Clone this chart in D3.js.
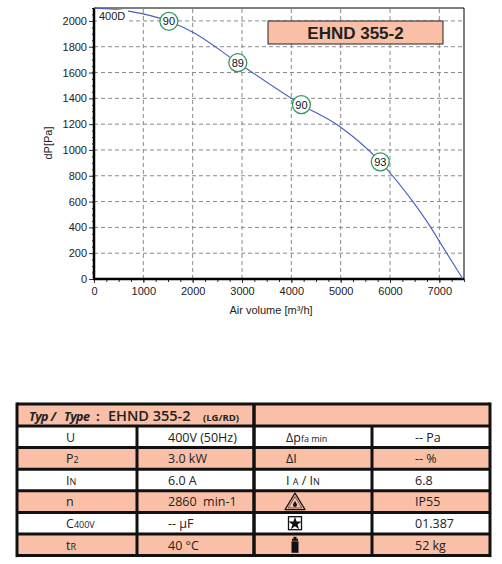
<!doctype html>
<html>
<head>
<script src="https://cdn.jsdelivr.net/npm/d3@7"></script>
<style>
  body { margin: 0; background: #fff; }
  svg { display: block; }
</style>
</head>
<body>
<svg width="502" height="564"></svg>
<script>
// curve data: air volume [m3/h] vs dP [Pa]
var flow = [0, 700, 1518, 2004, 2915, 4204, 4994, 5803, 6464, 6836, 7036, 7476];
var dp   = [2100, 2076, 1997, 1912, 1676, 1351, 1178, 908, 599, 394, 270, 0];
// efficiency markers
var effFlow = [1518, 2915, 4204, 5803];
var effDp   = [1997, 1676, 1351, 908];
var effVal  = ["90", "89", "90", "93"];
var xTicks = [0, 1000, 2000, 3000, 4000, 5000, 6000, 7000];
var yTicks = [0, 200, 400, 600, 800, 1000, 1200, 1400, 1600, 1800, 2000];
var title = "EHND 355-2";
var curveName = "400D";

// table
var headType = "EHND 355-2";
var headVariant = "(LG/RD)";
var labels1 = [[["U",0]], [["P",0],["2",1]], [["I",0],["N",1]], [["n",0]], [["C",0],["400V",1]], [["t",0],["R",1]]];
var values1 = ["400V (50Hz)", "3.0 kW", "6.0 A", "2860  min-1", "-- µF", "40 °C"];
var labels2 = [[["\u0394p",0],["fa min",1]], [["\u0394I",0]], [["I ",0],["A",1],[" / I",0],["N",1]], [], [], []];
var icons2  = [null, null, null, "warn", "star", "weight"];
var values2 = ["-- Pa", "-- %", "6.8", "IP55", "01.387", "52 kg"];

var svg = d3.select("svg");
var salmon = "#f9c0a7";

var x = d3.scaleLinear().domain([0, 7500]).range([94, 464]);
var y = d3.scaleLinear().domain([0, 2100]).range([279, 8]);

// grid
svg.append("g").selectAll("line.vg")
  .data(xTicks.slice(1))
  .enter().append("line")
  .attr("x1", function(d) { return x(d); }).attr("x2", function(d) { return x(d); })
  .attr("y1", y(0)).attr("y2", y(2100))
  .attr("stroke", "#8a8a8a").attr("stroke-dasharray", "4,3");
svg.append("g").selectAll("line.hg")
  .data(yTicks.slice(1))
  .enter().append("line")
  .attr("y1", function(d) { return y(d); }).attr("y2", function(d) { return y(d); })
  .attr("x1", x(0)).attr("x2", x(7500))
  .attr("stroke", "#8a8a8a").attr("stroke-dasharray", "4,3");

// axes
var xAxis = d3.axisBottom(x).tickValues(xTicks).tickSize(4).tickPadding(4).tickFormat(d3.format("d"));
var xMinor = d3.axisBottom(x).tickValues(d3.range(0, 7501, 250)).tickSize(3).tickFormat("");
var yAxis = d3.axisLeft(y).tickValues(yTicks).tickSize(5).tickPadding(2).tickFormat(d3.format("d"));
var yMinor = d3.axisLeft(y).tickValues(d3.range(0, 2101, 50)).tickSize(2).tickFormat("");

svg.append("g").attr("transform", "translate(0," + y(0) + ")").call(xMinor);
svg.append("g").attr("transform", "translate(0," + y(0) + ")").call(xAxis);
svg.append("g").attr("transform", "translate(" + x(0) + ",0)").call(yMinor);
svg.append("g").attr("transform", "translate(" + x(0) + ",0)").call(yAxis);
svg.selectAll(".domain").remove();
svg.selectAll(".tick line").attr("stroke", "#333");
svg.selectAll(".tick text")
  .attr("font-family", "Liberation Sans, Arial, sans-serif")
  .attr("font-size", 11).attr("fill", "#222");

// frame
svg.append("line").attr("x1", x(7500)).attr("x2", x(7500)).attr("y1", y(2100)).attr("y2", y(0)).attr("stroke", "#000");
svg.append("line").attr("x1", x(0)).attr("x2", x(7500)).attr("y1", y(2100)).attr("y2", y(2100)).attr("stroke", "#000");
svg.append("line").attr("x1", x(0)).attr("x2", x(0)).attr("y1", y(2100)).attr("y2", y(0) + 1).attr("stroke", "#000").attr("stroke-width", 2.5);
svg.append("line").attr("x1", x(0) - 1).attr("x2", x(7500)).attr("y1", y(0)).attr("y2", y(0)).attr("stroke", "#000").attr("stroke-width", 2.5);

// axis labels
svg.append("text").attr("x", 271).attr("y", 314).attr("text-anchor", "middle")
  .attr("font-family", "Liberation Sans, Arial, sans-serif").attr("font-size", 11).attr("fill", "#222")
  .text("Air volume [m\u00b3/h]");
svg.append("text").attr("transform", "translate(52,143) rotate(-90)").attr("text-anchor", "middle")
  .attr("font-family", "Liberation Sans, Arial, sans-serif").attr("font-size", 11).attr("fill", "#222")
  .text("dP[Pa]");

// curve
var line = d3.line()
  .x(function(d, i) { return x(flow[i]); })
  .y(function(d, i) { return y(dp[i]); })
  .curve(d3.curveMonotoneX);
svg.append("path").attr("d", line(flow))
  .attr("fill", "none").attr("stroke", "#4a5dc4").attr("stroke-width", 1.1);

// curve name
svg.append("rect").attr("x", 97).attr("y", 10).attr("width", 31).attr("height", 12).attr("fill", "#fff");
svg.append("text").attr("x", 99).attr("y", 20)
  .attr("font-family", "Liberation Sans, Arial, sans-serif").attr("font-size", 11).attr("fill", "#222")
  .text(curveName);

// efficiency markers
var marks = svg.append("g").selectAll("g")
  .data(effVal).enter().append("g")
  .attr("transform", function(d, i) { return "translate(" + x(effFlow[i]) + "," + y(effDp[i]) + ")"; });
marks.append("circle").attr("r", 9).attr("fill", "#fff").attr("stroke", "#2f9a5c").attr("stroke-width", 1.3);
marks.append("text").attr("y", 4).attr("text-anchor", "middle")
  .attr("font-family", "Liberation Sans, Arial, sans-serif").attr("font-size", 11).attr("fill", "#111")
  .text(function(d) { return d; });

// title box
svg.append("rect").attr("x", 268).attr("y", 21).attr("width", 175).attr("height", 23)
  .attr("fill", salmon).attr("stroke", "#222").attr("stroke-width", 1);
svg.append("text").attr("x", 355.5).attr("y", 39).attr("text-anchor", "middle")
  .attr("font-family", "Liberation Sans, Arial, sans-serif").attr("font-size", 17)
  .attr("font-weight", "bold").attr("fill", "#222").text(title);

// ---------- table ----------
var tf = "Open Sans, Noto Sans, sans-serif";
var tL = 17, tR = 490, tTop = 404, headH = 22, rowH = 21.6;
var colX = [tL, 137, 254, 372, tR];
var textX = [66, 168, 286, 415];
var fills = ["#fff", salmon, "#fff", salmon, "#fff", salmon];

var tbl = svg.append("g");
tbl.append("rect").attr("x", tL).attr("y", tTop).attr("width", tR - tL).attr("height", headH).attr("fill", salmon);
tbl.selectAll("rect.row").data(fills).enter().append("rect")
  .attr("x", tL).attr("y", function(d, i) { return tTop + headH + i * rowH; })
  .attr("width", tR - tL).attr("height", rowH).attr("fill", function(d) { return d; });

// header text
var ht = tbl.append("text").attr("y", tTop + 16.5).attr("font-family", tf).attr("fill", "#222");
ht.append("tspan").attr("x", 29).attr("font-size", 12.5).attr("font-weight", "bold").attr("font-style", "italic").attr("letter-spacing", -0.5).text("Typ /");
ht.append("tspan").attr("x", 64).attr("font-size", 12.5).attr("font-weight", "bold").attr("font-style", "italic").attr("letter-spacing", -0.5).text("Type");
ht.append("tspan").attr("x", 96).attr("font-size", 13).attr("font-weight", "bold").text(":");
ht.append("tspan").attr("x", 108).attr("font-size", 14.5).attr("font-weight", 600).text(headType);
ht.append("tspan").attr("x", 203).attr("font-size", 9.5).attr("font-weight", "bold").text(headVariant);

function writeLabel(row, segs, xx) {
  var t = tbl.append("text").attr("x", xx).attr("y", tTop + headH + row * rowH + 15.5)
    .attr("font-family", tf).attr("font-size", 12.5).attr("fill", "#222");
  segs.forEach(function(s) {
    t.append("tspan").attr("font-size", s[1] ? 9 : 12.5).text(s[0]);
  });
}
labels1.forEach(function(segs, i) { writeLabel(i, segs, textX[0]); });
labels2.forEach(function(segs, i) { if (segs.length) writeLabel(i, segs, textX[2]); });
tbl.selectAll("text.v1").data(values1).enter().append("text")
  .attr("x", textX[1]).attr("y", function(d, i) { return tTop + headH + i * rowH + 15.5; })
  .attr("font-family", tf).attr("font-size", 12.5).attr("fill", "#222")
  .attr("xml:space", "preserve").style("white-space", "pre")
  .text(function(d) { return d; });
tbl.selectAll("text.v2").data(values2).enter().append("text")
  .attr("x", textX[3]).attr("y", function(d, i) { return tTop + headH + i * rowH + 15.5; })
  .attr("font-family", tf).attr("font-size", 12.5).attr("fill", "#222")
  .text(function(d) { return d; });

// icons
icons2.forEach(function(ic, i) {
  var cy = tTop + headH + i * rowH + rowH / 2;
  var g = tbl.append("g").attr("transform", "translate(295," + cy + ")");
  if (ic === "warn") {
    g.append("path").attr("d", "M0,-8.5 L10,8 L-10,8 Z").attr("fill", "none").attr("stroke", "#111").attr("stroke-width", 1.2).attr("stroke-linejoin", "round");
    g.append("path").attr("d", "M0,-5 L6.8,6.3 L-6.8,6.3 Z").attr("fill", "none").attr("stroke", "#111").attr("stroke-width", 0.6);
    g.append("path").attr("d", "M0,-0.5 C1.2,1.5 2,2.5 2,3.3 A2,2 0 0 1 -2,3.3 C-2,2.5 -1.2,1.5 0,-0.5 Z").attr("fill", "#111");
  } else if (ic === "star") {
    g.append("rect").attr("x", -6.5).attr("y", -6.5).attr("width", 13).attr("height", 13).attr("fill", "#fff").attr("stroke", "#111").attr("stroke-width", 1.3);
    g.append("path").attr("d", d3.symbol(d3.symbolStar, 55)()).attr("transform", "translate(0,0.5)").attr("fill", "#111");
  } else if (ic === "weight") {
    g.append("rect").attr("x", -1.5).attr("y", -8).attr("width", 3).attr("height", 2.5).attr("fill", "#111");
    g.append("rect").attr("x", -3).attr("y", -6).attr("width", 6).attr("height", 2).attr("fill", "#111");
    g.append("rect").attr("x", -3.5).attr("y", -3.5).attr("width", 7).attr("height", 11.5).attr("fill", "#111");
  }
});

// table lines
var nRows = fills.length;
var bottom = tTop + headH + nRows * rowH;
var hl = [tTop, tTop + headH].concat(d3.range(1, nRows + 1).map(function(i) { return tTop + headH + i * rowH; }));
tbl.selectAll("line.h").data(hl).enter().append("line")
  .attr("x1", tL).attr("x2", tR).attr("y1", function(d) { return d; }).attr("y2", function(d) { return d; })
  .attr("stroke", "#111").attr("stroke-width", 3);
tbl.append("line").attr("x1", tL).attr("x2", tL).attr("y1", tTop - 1.5).attr("y2", bottom + 1.5).attr("stroke", "#111").attr("stroke-width", 3);
tbl.append("line").attr("x1", tR).attr("x2", tR).attr("y1", tTop - 1.5).attr("y2", bottom + 1.5).attr("stroke", "#111").attr("stroke-width", 3);
tbl.append("line").attr("x1", colX[2]).attr("x2", colX[2]).attr("y1", tTop).attr("y2", bottom).attr("stroke", "#111").attr("stroke-width", 3.5);
[colX[1], colX[3]].forEach(function(cx) {
  tbl.append("line").attr("x1", cx).attr("x2", cx).attr("y1", tTop + headH).attr("y2", bottom).attr("stroke", "#111").attr("stroke-width", 3);
});
</script>
</body>
</html>
